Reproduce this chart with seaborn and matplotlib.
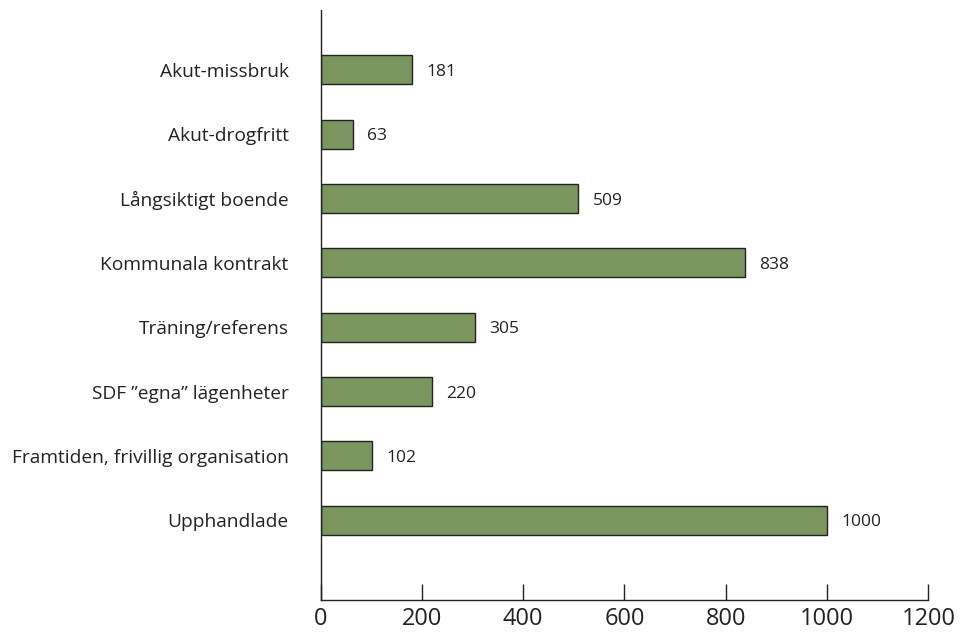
import matplotlib
matplotlib.use("Agg")
import matplotlib.pyplot as plt
import seaborn as sns
import pandas as pd

# Data
categories = [
    "Akut-missbruk",
    "Akut-drogfritt",
    "Långsiktigt boende",
    "Kommunala kontrakt",
    "Träning/referens",
    "SDF \u201degna\u201d lägenheter",
    "Framtiden, frivillig organisation",
    "Upphandlade",
]
values = [181, 63, 509, 838, 305, 220, 102, 1000]
xticks = [0, 200, 400, 600, 800, 1000, 1200]

sns.set_theme(style="white")
plt.rcParams["font.family"] = ["Open Sans", "DejaVu Sans"]

df = pd.DataFrame({"category": categories, "value": values})

fig = plt.figure(figsize=(9.6, 6.33), dpi=100)
ax = fig.add_axes([0.334, 0.052, 0.633, 0.932])

sns.barplot(
    data=df, x="value", y="category", orient="h",
    color="#7b9560", saturation=1, width=0.45,
    edgecolor="#222222", linewidth=1.0, ax=ax,
)

for i, v in enumerate(values):
    ax.text(v + 28, i + 0.03, str(v), va="center", ha="left", fontsize=12.5, color="#222222")

ax.set_xlim(0, 1200)
ax.set_ylim(8.24, -0.93)
ax.set_xticks(xticks)
ax.set_xticklabels([str(t) for t in xticks], fontsize=17, color="#222222")
ax.tick_params(axis="x", direction="in", length=11.5, width=1.0, color="#222222", pad=5, bottom=True)
ax.tick_params(axis="y", length=0, labelsize=13.8, labelcolor="#222222", pad=23)
ax.set_xlabel("")
ax.set_ylabel("")

for side in ["top", "right"]:
    ax.spines[side].set_visible(False)
for side in ["left", "bottom"]:
    ax.spines[side].set_color("#222222")
    ax.spines[side].set_linewidth(1.0)

fig.savefig("out.png", dpi=100)
